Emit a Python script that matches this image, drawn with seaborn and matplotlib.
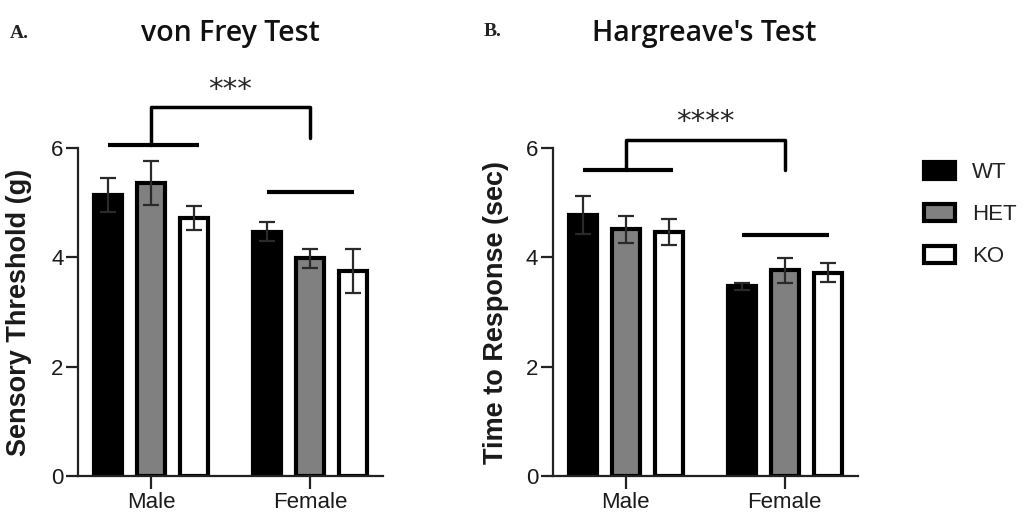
import matplotlib
matplotlib.use('Agg')
import matplotlib.pyplot as plt
import seaborn as sns
import pandas as pd
from matplotlib.patches import Patch

# Daten
sexes = ['Male', 'Female']
genotypes = ['WT', 'HET', 'KO']
colors = {'WT': '#000000', 'HET': '#808080', 'KO': '#ffffff'}

# von Frey (g)
vf_mean = {'WT': [5.14, 4.47], 'HET': [5.36, 3.98], 'KO': [4.72, 3.75]}
vf_sem = {'WT': [0.31, 0.18], 'HET': [0.40, 0.18], 'KO': [0.22, 0.40]}

# Hargreave (sec)
hg_mean = {'WT': [4.78, 3.47], 'HET': [4.51, 3.76], 'KO': [4.47, 3.72]}
hg_sem = {'WT': [0.35, 0.06], 'HET': [0.25, 0.23], 'KO': [0.24, 0.17]}

titles = ['von Frey Test', "Hargreave's Test"]
ylabels = ['Sensory Threshold (g)', 'Time to Response (sec)']
panel_letters = ['A.', 'B.']
stars = ['***', '****']
# Signifikanzlinien: (Maennchen-Linie, Weibchen-Linie, Klammer oben, Sterne)
sig_levels = [(6.06, 5.19, 6.75, 7.07), (5.60, 4.40, 6.15, 6.47)]


def to_frame(mean, sem):
    rows = []
    for g in genotypes:
        for i, s in enumerate(sexes):
            rows.append({'sex': s, 'genotype': g, 'value': mean[g][i], 'sem': sem[g][i]})
    return pd.DataFrame(rows)


sns.set_style('ticks')
plt.rcParams['font.family'] = ['Liberation Sans', 'DejaVu Sans']

fig = plt.figure(figsize=(10.28, 5.17), dpi=100)
axes = [fig.add_axes([0.0759, 0.0793, 0.2967, 0.6344]),
        fig.add_axes([0.5377, 0.0793, 0.2967, 0.6344])]
title_x = [230, 704]
ylabel_x = [-0.150, -0.143]

for k, (ax, (mean, sem)) in enumerate(zip(axes, [(vf_mean, vf_sem), (hg_mean, hg_sem)])):
    df = to_frame(mean, sem)
    sns.barplot(data=df, x='sex', y='value', hue='genotype', order=sexes, hue_order=genotypes,
                palette=colors, edgecolor='black', linewidth=3, width=0.81, gap=0.35,
                errorbar=None, legend=False, ax=ax)

    # Fehlerbalken (SEM) ueber die Balken
    for g, cont in zip(genotypes, ax.containers):
        for i, bar in enumerate(cont):
            xc = bar.get_x() + bar.get_width() / 2
            ax.errorbar(xc, mean[g][i], yerr=sem[g][i], color='#2a2a2a', lw=1.6,
                        capsize=6, capthick=1.6, clip_on=False, zorder=5)

    ax.set_xlim(-0.46, 1.46)
    ax.set_ylim(0, 6)
    ax.set_yticks([0, 2, 4, 6])
    ax.set_xlabel('')
    ax.set_ylabel(ylabels[k], fontsize=19.5, fontweight='bold', color='#1a1a1a')
    ax.yaxis.set_label_coords(ylabel_x[k], 0.5)
    ax.tick_params(axis='both', labelsize=16, width=1.6, length=8.5, color='#222222',
                   labelcolor='#1a1a1a')
    ax.tick_params(axis='x', length=9.5, pad=2)
    ax.tick_params(axis='y', pad=2)
    for sp in ['left', 'bottom']:
        ax.spines[sp].set_linewidth(1.6)
        ax.spines[sp].set_color('#222222')
    sns.despine(ax=ax)

    # Signifikanz
    male_y, female_y, top_y, star_y = sig_levels[k]
    ax.plot([-0.27, 0.30], [male_y, male_y], color='black', lw=3, clip_on=False, solid_capstyle='butt')
    ax.plot([0.73, 1.28], [female_y, female_y], color='black', lw=3, clip_on=False, solid_capstyle='butt')
    ax.plot([0, 0, 1, 1], [male_y, top_y, top_y, male_y + 0.12 if k == 0 else male_y],
            color='black', lw=2.5, clip_on=False)
    ax.text(0.5, star_y, stars[k], ha='center', va='center', fontsize=21, clip_on=False,
            family=['DejaVu Sans'])

    # Titel
    fig.text(title_x[k] / 1028, 1 - 33 / 517, titles[k], fontsize=20.5,
             family=['Open Sans', 'DejaVu Sans'], fontweight='semibold',
             ha='center', va='center', color='#111111')

fig.text(10 / 1028, 1 - 33 / 517, panel_letters[0], fontsize=14, fontweight='bold',
         family=['Liberation Serif'], va='center', ha='left', color='#222222')
fig.text(484 / 1028, 1 - 31 / 517, panel_letters[1], fontsize=14, fontweight='bold',
         family=['Liberation Serif'], va='center', ha='left', color='#222222')

handles = [Patch(facecolor=colors[g], edgecolor='black', linewidth=3, label=g) for g in genotypes]
fig.legend(handles=handles, loc='upper left', bbox_to_anchor=(904 / 1028, 1 - 142 / 517),
           frameon=False, fontsize=16, handlelength=1.4, handleheight=0.77,
           labelspacing=0.95, handletextpad=0.75, labelcolor='#222222')

fig.savefig('out.png', dpi=100)
